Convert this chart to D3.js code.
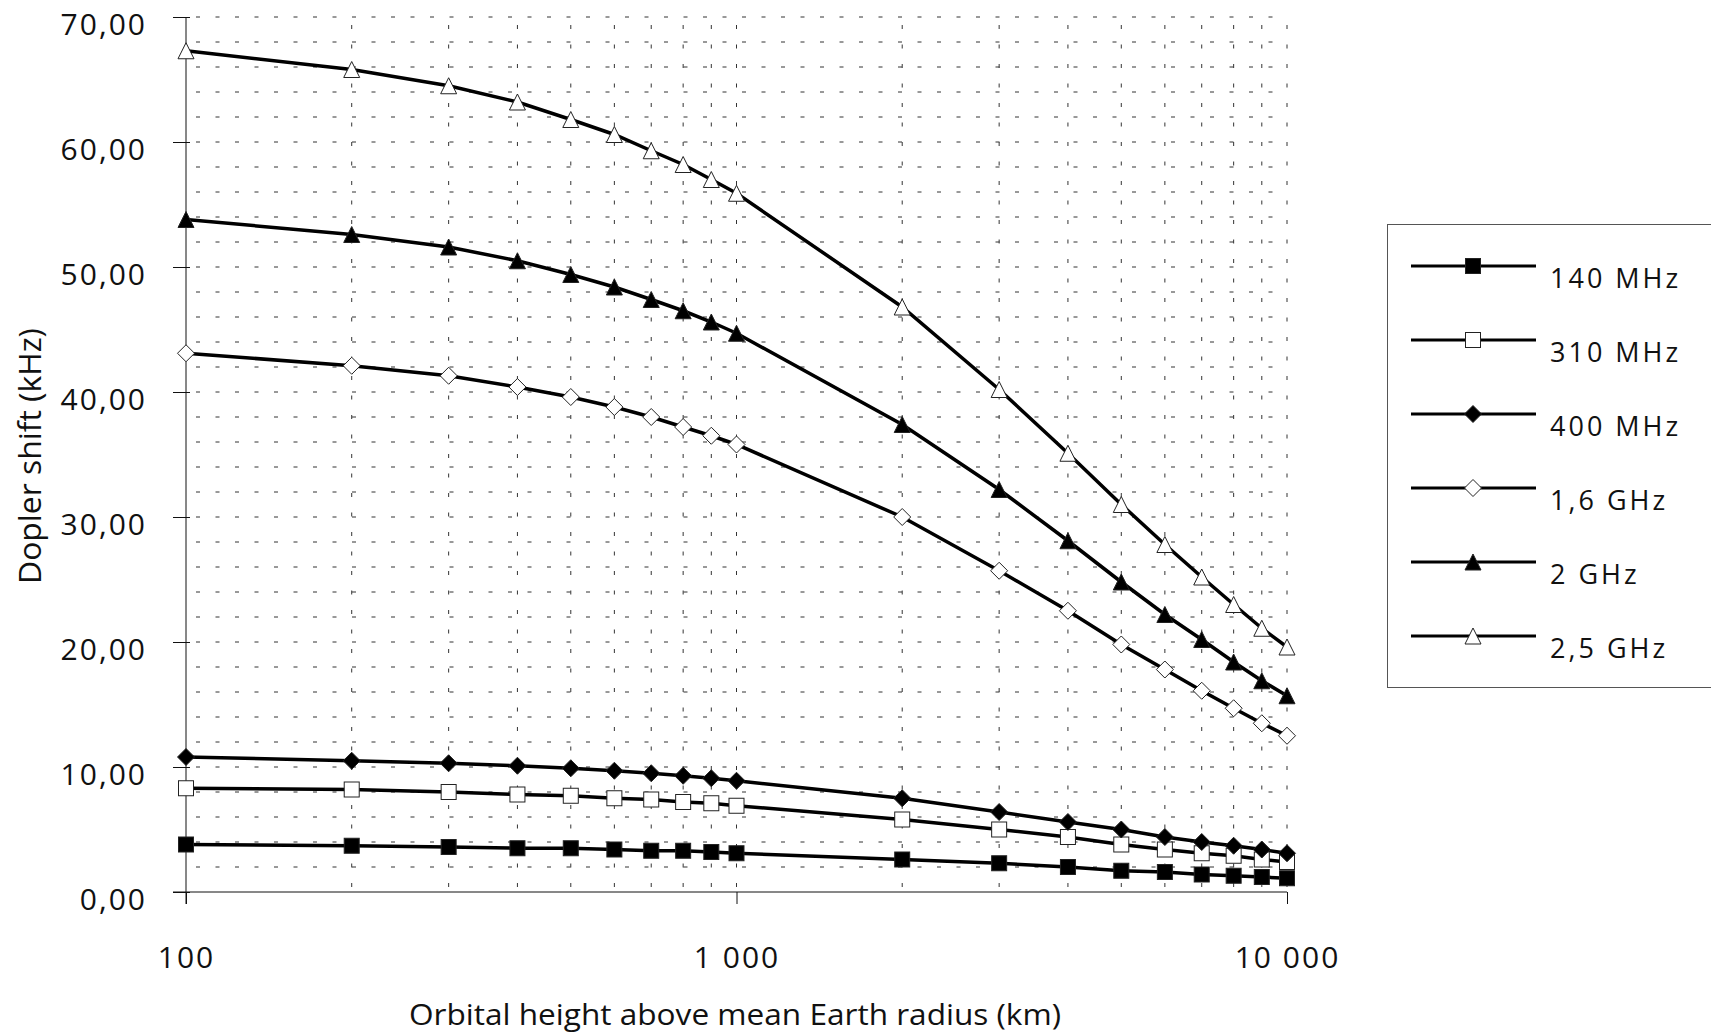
<!DOCTYPE html>
<html><head><meta charset="utf-8">
<script src="https://cdn.jsdelivr.net/npm/d3@7"></script>
<style>body{margin:0;background:#fff}svg{display:block}text{font-family:"Open Sans",sans-serif;fill:#111}</style>
</head><body><svg id="c" width="1711" height="1033"></svg>
<script>
const heights = [100,200,300,400,500,600,700,800,900,1000,2000,3000,4000,5000,6000,7000,8000,9000,10000];
const s140  = [3.8,3.7,3.6,3.5,3.5,3.4,3.3,3.3,3.2,3.1,2.6,2.3,2.0,1.7,1.6,1.4,1.3,1.2,1.1];
const s310  = [8.3,8.2,8.0,7.8,7.7,7.5,7.4,7.2,7.1,6.9,5.8,5.0,4.4,3.8,3.4,3.1,2.9,2.6,2.4];
const s400  = [10.8,10.5,10.3,10.1,9.9,9.7,9.5,9.3,9.1,8.9,7.5,6.4,5.6,5.0,4.4,4.0,3.7,3.4,3.1];
const s1600 = [43.1,42.1,41.3,40.4,39.6,38.8,38.0,37.2,36.5,35.8,30.0,25.7,22.5,19.8,17.8,16.1,14.7,13.5,12.5];
const s2000 = [53.8,52.6,51.6,50.5,49.4,48.4,47.4,46.5,45.6,44.7,37.4,32.2,28.1,24.8,22.2,20.2,18.4,16.9,15.7];
const s2500 = [67.3,65.8,64.5,63.2,61.8,60.6,59.3,58.2,57.0,55.9,46.8,40.2,35.1,31.0,27.8,25.2,23.0,21.1,19.6];
const seriesNames = ["140 MHz","310 MHz","400 MHz","1,6 GHz","2 GHz","2,5 GHz"];
const seriesMarkers = ["squareFilled","squareOpen","diamondFilled","diamondOpen","triangleFilled","triangleOpen"];
const xTickValues = [100,1000,10000];
const xTickLabels = ["100","1 000","10 000"];
const yTickValues = [0,10,20,30,40,50,60,70];
const yTickLabels = ["0,00","10,00","20,00","30,00","40,00","50,00","60,00","70,00"];
const xTitle = "Orbital height above mean Earth radius (km)";
const yTitle = "Dopler shift (kHz)";

const seriesData = [s140,s310,s400,s1600,s2000,s2500];
const svg = d3.select("#c");
const x = d3.scaleLog().domain([100,10000]).range([186,1287]);
const y = d3.scaleLinear().domain([0,70]).range([892,17]);

const grid = svg.append("g");
d3.range(2,71,2).forEach(v=>{
  grid.append("line").attr("x1",186).attr("x2",1287).attr("y1",y(v)).attr("y2",y(v))
    .attr("stroke","#333").attr("stroke-width",1).attr("stroke-dasharray","4,15.5").attr("stroke-dashoffset",-10);
});
heights.filter(h=>h>100).forEach(h=>{
  grid.append("line").attr("x1",x(h)).attr("x2",x(h)).attr("y1",17).attr("y2",892)
    .attr("stroke","#333").attr("stroke-width",1).attr("stroke-dasharray","4,15.5").attr("stroke-dashoffset",-8);
});

const yAxis = d3.axisLeft(y).tickValues(yTickValues).tickFormat((d,i)=>yTickLabels[i]).tickSize(13).tickPadding(26);
const gy = svg.append("g").attr("transform","translate(186,0)").call(yAxis);
gy.select(".domain").remove();
gy.selectAll(".tick line").attr("x2",-13).attr("x1",4).attr("stroke","#111");
gy.selectAll(".tick text").attr("font-size",30).attr("letter-spacing",2).attr("dy",null).attr("y",17).attr("font-family","Open Sans").attr("fill","#111");
svg.append("line").attr("x1",186).attr("x2",186).attr("y1",17).attr("y2",904).attr("stroke","#111");

const xAxis = d3.axisBottom(x).tickValues(xTickValues).tickFormat((d,i)=>xTickLabels[i]).tickSize(12).tickPadding(0);
const gx = svg.append("g").attr("transform","translate(0,892)").call(xAxis);
gx.select(".domain").remove();
gx.selectAll(".tick line").attr("stroke","#111");
gx.selectAll(".tick text").attr("font-size",30).attr("letter-spacing",2).attr("dy",null).attr("y",76).attr("font-family","Open Sans").attr("fill","#111");
svg.append("line").attr("x1",173).attr("x2",1287).attr("y1",892).attr("y2",892).attr("stroke","#111");

svg.append("text").attr("x",735).attr("y",1025).attr("text-anchor","middle").attr("font-size",30)
  .attr("textLength",652).attr("lengthAdjust","spacingAndGlyphs").text(xTitle);
svg.append("text").attr("transform","translate(41,456) rotate(-90)").attr("text-anchor","middle").attr("font-size",31)
  .attr("textLength",256).attr("lengthAdjust","spacingAndGlyphs").text(yTitle);

function marker(g, type, cx, cy){
  const fillBlack = type.endsWith("Filled");
  const fill = fillBlack ? "#000" : "#fff";
  const stroke = "#222";
  if (type.startsWith("square")) {
    g.append("rect").attr("x",cx-7.5).attr("y",cy-7.5).attr("width",15).attr("height",15)
      .attr("fill",fill).attr("stroke",stroke).attr("stroke-width",1);
  } else if (type.startsWith("diamond")) {
    const r = 8.5;
    g.append("path").attr("d",`M${cx},${cy-r}L${cx+r},${cy}L${cx},${cy+r}L${cx-r},${cy}Z`)
      .attr("fill",fill).attr("stroke",stroke).attr("stroke-width",1);
  } else {
    const w=8, h=8;
    g.append("path").attr("d",`M${cx},${cy-h}L${cx+w},${cy+h}L${cx-w},${cy+h}Z`)
      .attr("fill",fill).attr("stroke",stroke).attr("stroke-width",1);
  }
}

const line = d3.line().x((d,i)=>x(heights[i])).y(d=>y(d));
const plot = svg.append("g");
seriesData.forEach((arr,si)=>{
  plot.append("path").attr("d",line(arr)).attr("fill","none").attr("stroke","#000").attr("stroke-width",3.5);
});
seriesData.forEach((arr,si)=>{
  const g = plot.append("g");
  arr.forEach((v,i)=>marker(g, seriesMarkers[si], x(heights[i]), y(v)));
});

const lg = svg.append("g");
lg.append("rect").attr("x",1387.5).attr("y",224.5).attr("width",340).attr("height",463)
  .attr("fill","#fff").attr("stroke","#555").attr("stroke-width",1);
seriesNames.forEach((name,i)=>{
  const ly = 266 + i*74;
  lg.append("line").attr("x1",1411).attr("x2",1536).attr("y1",ly).attr("y2",ly).attr("stroke","#000").attr("stroke-width",3);
  marker(lg, seriesMarkers[i], 1473, ly);
  lg.append("text").attr("x",1550).attr("y",ly+22).attr("font-size",27).attr("letter-spacing",3).text(name);
});
</script></body></html>
